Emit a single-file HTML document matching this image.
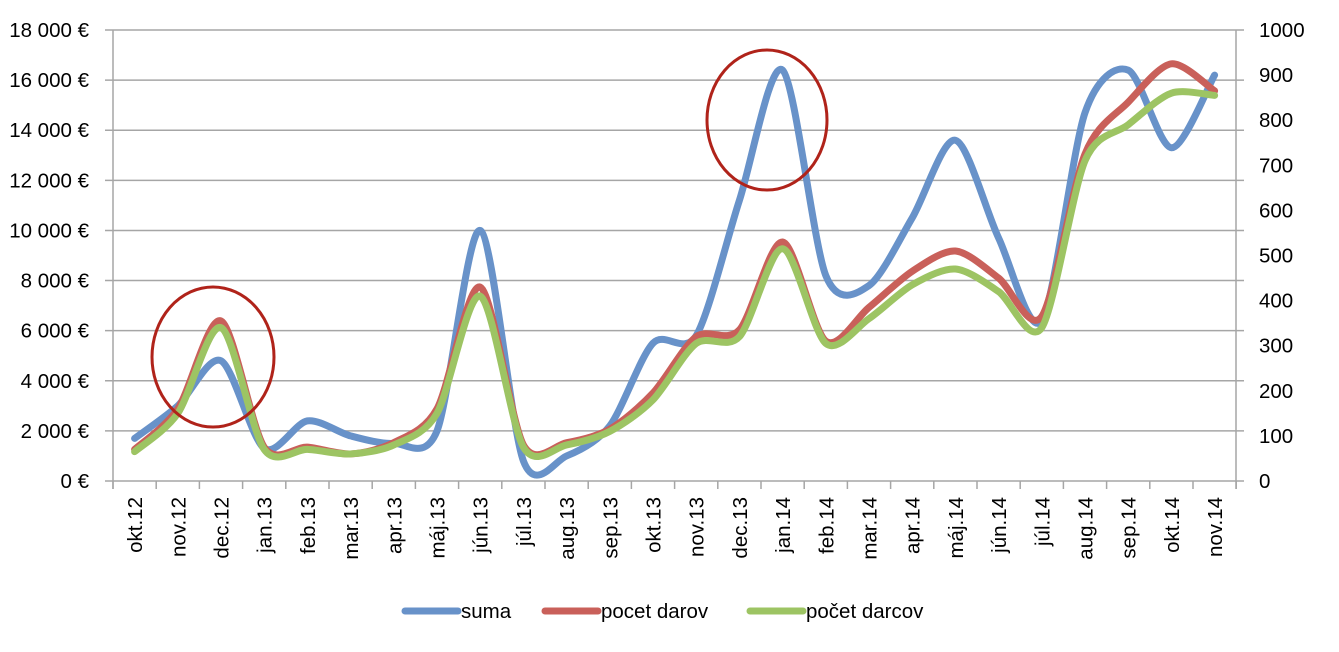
<!DOCTYPE html>
<html><head><meta charset="utf-8"><style>
body{margin:0;background:#fff;}
svg{display:block;font-family:"Liberation Sans",sans-serif;}
</style></head><body>
<svg id="c" width="1339" height="652" xmlns="http://www.w3.org/2000/svg"></svg>
<script>
const s=document.getElementById('c');
let h='';
const L=113,R=1236,T=30,B=481,cw=43.2;
for(let i=0;i<=9;i++){const y=B-(B-T)*i/9;
h+=`<line x1="105" y1="${y}" x2="1244" y2="${y}" stroke="#a6a6a6" stroke-width="1.5"/>`;
const v=i*2000;const lab=(v>=1000?Math.floor(v/1000)+' 000':'0')+' €';
h+=`<text x="89" y="${y+7}" font-size="20.5" text-anchor="end">${lab}</text>`;}
for(let i=0;i<=10;i++){const y=B-(B-T)*i/10;
h+=`<text x="1259" y="${y+7}" font-size="20.5">${i*100}</text>`;}
h+=`<line x1="${L}" y1="${T}" x2="${L}" y2="${B+8}" stroke="#a6a6a6" stroke-width="1.5"/>`;
h+=`<line x1="${R}" y1="${T}" x2="${R}" y2="${B+8}" stroke="#a6a6a6" stroke-width="1.5"/>`;
for(let i=0;i<=26;i++){const x=L+cw*i;h+=`<line x1="${x}" y1="${B}" x2="${x}" y2="${B+8}" stroke="#a6a6a6" stroke-width="1.5"/>`;}
const cats=['okt.12','nov.12','dec.12','jan.13','feb.13','mar.13','apr.13','máj.13','jún.13','júl.13','aug.13','sep.13','okt.13','nov.13','dec.13','jan.14','feb.14','mar.14','apr.14','máj.14','jún.14','júl.14','aug.14','sep.14','okt.14','nov.14'];
cats.forEach((c,i)=>{const x=L+cw*(i+0.5)+7.5;h+=`<text transform="translate(${x},497) rotate(-90)" font-size="20.5" text-anchor="end">${c}</text>`;});
const suma=[1700,3000,4800,1300,2400,1800,1500,2000,10000,800,1000,2200,5500,5800,11200,16400,8200,7800,10500,13600,9700,6400,14700,16400,13300,16200];
const red=[70,160,355,75,75,60,85,160,430,80,85,115,195,320,335,530,310,385,465,510,450,365,725,840,925,865];
const grn=[65,150,340,70,70,60,80,150,410,75,80,110,180,305,320,515,305,360,435,470,420,340,710,790,860,855];
function path(vals,max){const p=vals.map((v,i)=>[L+cw*(i+0.5),B-(B-T)*v/max]);
let d=`M${p[0][0]},${p[0][1]}`;
for(let i=0;i<p.length-1;i++){const p0=p[i-1]||p[i],p1=p[i],p2=p[i+1],p3=p[i+2]||p2;const t=7;
d+=` C${p1[0]+(p2[0]-p0[0])/t},${p1[1]+(p2[1]-p0[1])/t} ${p2[0]-(p3[0]-p1[0])/t},${p2[1]-(p3[1]-p1[1])/t} ${p2[0]},${p2[1]}`;}
return d;}
h+=`<path d="${path(suma,18000)}" fill="none" stroke="#6892c9" stroke-width="7" stroke-linecap="round"/>`;
h+=`<path d="${path(red,1000)}" fill="none" stroke="#c9605a" stroke-width="7" stroke-linecap="round"/>`;
h+=`<path d="${path(grn,1000)}" fill="none" stroke="#9dc463" stroke-width="7" stroke-linecap="round"/>`;
h+=`<ellipse cx="213" cy="357" rx="61" ry="70" fill="none" stroke="#b0231a" stroke-width="3"/>`;
h+=`<ellipse cx="767" cy="120" rx="60" ry="70" fill="none" stroke="#b0231a" stroke-width="3"/>`;
[[405,'#6892c9','suma'],[545,'#c9605a','pocet darov'],[750,'#9dc463','počet darcov']].forEach(([x,c,t])=>{
h+=`<line x1="${x}" y1="611" x2="${x+53}" y2="611" stroke="${c}" stroke-width="7" stroke-linecap="round"/>`;
h+=`<text x="${x+56}" y="618" font-size="20.5">${t}</text>`;});
s.innerHTML=h;
</script>
</body></html>
